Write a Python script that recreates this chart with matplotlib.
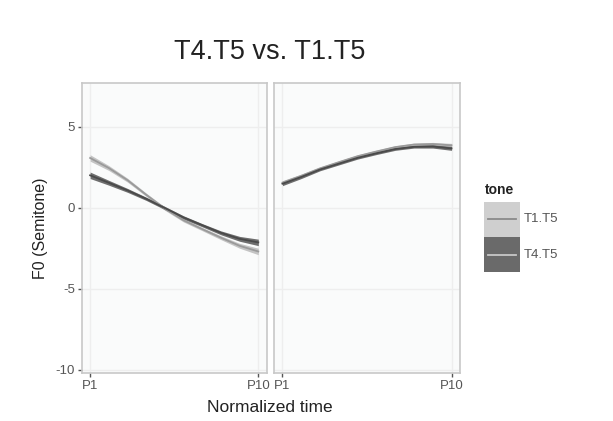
import matplotlib.pyplot as plt
from matplotlib.patches import Rectangle
from matplotlib.lines import Line2D

plt.rcParams['font.family'] = ['Liberation Sans', 'DejaVu Sans']
plt.rcParams['axes.unicode_minus'] = False

# normalized time points P1..P10
steps = [1, 2, 3, 4, 5, 6, 7, 8, 9, 10]
tick_labels = ['P1', 'P10']

# left panel (smoothed F0, semitones)
left_t1 = [3.07, 2.45, 1.7, 0.8, -0.06, -0.78, -1.32, -1.85, -2.35, -2.7]
left_t4 = [2.0, 1.54, 1.07, 0.55, -0.02, -0.6, -1.08, -1.55, -1.92, -2.14]
left_t1_se = [0.2, 0.15, 0.12, 0.1, 0.1, 0.1, 0.1, 0.12, 0.15, 0.2]
left_t4_se = [0.2, 0.15, 0.12, 0.1, 0.1, 0.1, 0.1, 0.12, 0.15, 0.2]

# right panel
right_t1 = [1.55, 1.97, 2.43, 2.81, 3.18, 3.47, 3.74, 3.9, 3.93, 3.85]
right_t4 = [1.48, 1.9, 2.36, 2.72, 3.08, 3.36, 3.62, 3.76, 3.78, 3.66]
right_t1_se = [0.12, 0.1, 0.08, 0.08, 0.08, 0.08, 0.08, 0.08, 0.1, 0.12]
right_t4_se = [0.12, 0.1, 0.08, 0.08, 0.08, 0.08, 0.08, 0.08, 0.1, 0.12]

tones = ['T1.T5', 'T4.T5']
ribbon_col = {'T1.T5': '#c4c4c4', 'T4.T5': '#6e6e6e'}
line_col = {'T1.T5': '#9a9a9a', 'T4.T5': '#4a4a4a'}

fig = plt.figure(figsize=(6.13, 4.21), dpi=100)
ax1 = fig.add_axes([0.1333, 0.114, 0.3018, 0.689])
ax2 = fig.add_axes([0.447, 0.114, 0.3034, 0.689])


def draw_panel(ax, series, show_y):
    ax.set_facecolor('#fafbfb')
    for tone, (y, se) in series.items():
        lo = [a - b for a, b in zip(y, se)]
        hi = [a + b for a, b in zip(y, se)]
        ax.fill_between(steps, lo, hi, color=ribbon_col[tone], lw=0, zorder=2)
        ax.plot(steps, y, color=line_col[tone], lw=1.3, zorder=3)
    ax.set_xlim(0.55, 10.45)
    ax.set_ylim(-10.2, 7.7)
    ax.set_xticks([1, 10])
    ax.set_xticklabels(tick_labels)
    ax.set_yticks([-10, -5, 0, 5])
    ax.grid(True, color='#eeeeee', lw=1, zorder=0)
    ax.set_axisbelow(True)
    for s in ax.spines.values():
        s.set_color('#c8c8c8')
        s.set_linewidth(1.2)
    ax.tick_params(colors='#555555', labelsize=9.5, length=3, width=1,
                   labelcolor='#555555', pad=2)
    if not show_y:
        ax.tick_params(axis='y', left=False, labelleft=False)


draw_panel(ax1, {'T1.T5': (left_t1, left_t1_se), 'T4.T5': (left_t4, left_t4_se)}, True)
draw_panel(ax2, {'T1.T5': (right_t1, right_t1_se), 'T4.T5': (right_t4, right_t4_se)}, False)

ax1.set_ylabel('F0 (Semitone)', fontsize=11.5, color='#222222', labelpad=5)

fig.text(270 / 613, 1 - 52 / 421, 'T4.T5 vs. T1.T5', fontsize=19.5,
         ha='center', va='center', color='#222222')
fig.text(270 / 613, 1 - 407 / 421, 'Normalized time', fontsize=12.5,
         ha='center', va='center', color='#222222')

# legend drawn by hand like ggplot's
fig.text(485 / 613, 1 - 190 / 421, 'tone', fontsize=10, fontweight='bold',
         ha='left', va='center', color='#222222')
key_fill = {'T1.T5': '#cfcfcf', 'T4.T5': '#6a6a6a'}
key_line = {'T1.T5': '#8a8a8a', 'T4.T5': '#c8c8c8'}
for i, tone in enumerate(tones):
    top = 202 + i * 35
    fig.patches.append(Rectangle((484 / 613, 1 - (top + 35) / 421), 36 / 613, 35 / 421,
                                 transform=fig.transFigure, color=key_fill[tone], lw=0))
    yc = 1 - (top + 17.5) / 421
    fig.lines.append(Line2D([488 / 613, 516 / 613], [yc, yc], transform=fig.transFigure,
                            color=key_line[tone], lw=1.3))
    fig.text(524 / 613, yc, tone, fontsize=9.5, ha='left', va='center', color='#555555')

fig.savefig('out.png', dpi=100)
